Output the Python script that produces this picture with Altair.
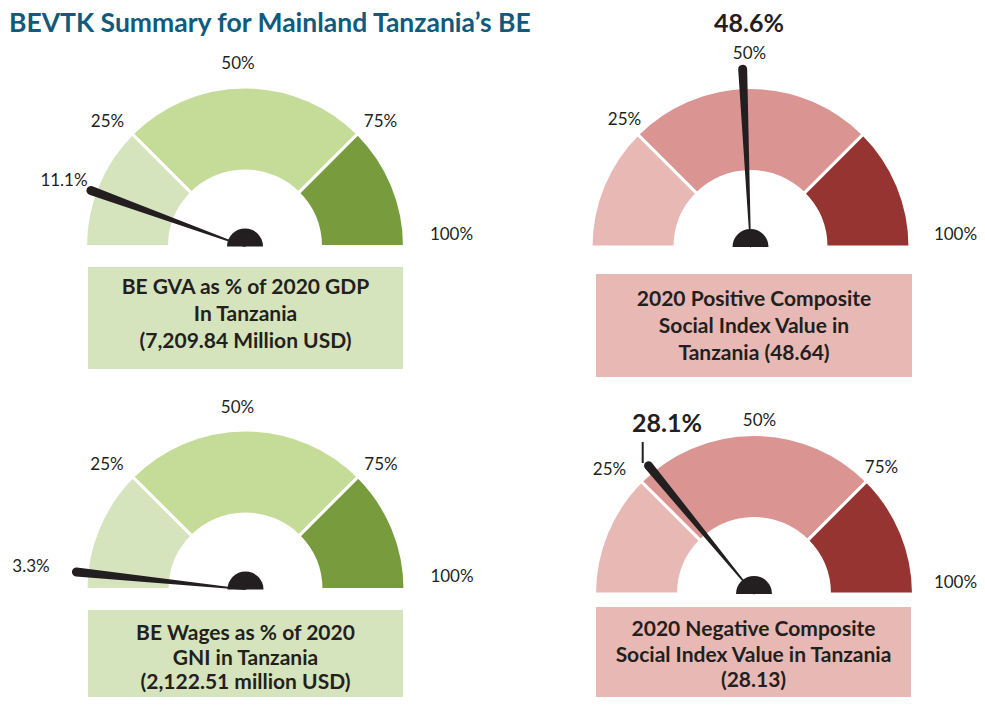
import math
import altair as alt
import pandas as pd

# ---------------- data ----------------
TITLE = "BEVTK Summary for Mainland Tanzania\u2019s BE"
gauge_ids = ["gva", "positive", "wages", "negative"]
gauge_values = [11.1, 48.6, 3.3, 28.1]
value_labels = ["11.1%", "48.6%", "3.3%", "28.1%"]
box_texts = [
    "BE GVA as % of 2020 GDP\nIn Tanzania\n(7,209.84 Million USD)",
    "2020 Positive Composite\nSocial Index Value in\nTanzania (48.64)",
    "BE Wages as % of 2020\nGNI in Tanzania\n(2,122.51 million USD)",
    "2020 Negative Composite\nSocial Index Value in Tanzania\n(28.13)",
]
band_starts = [0, 25, 75]
band_ends = [25, 75, 100]
tick_labels = ["25%", "50%", "75%", "100%"]
green_bands = ["#d6e4bd", "#c5dc98", "#779b3d"]
red_bands = ["#e8b9b4", "#da9592", "#963431"]
box_fills = ["#d6e4bd", "#e8b9b4", "#d6e4bd", "#e8b9b4"]

# ---------------- layout (pixel positions on the page) ----------------
centers_x = [245, 750.5, 245.5, 754]
centers_y = [246.5, 247, 589.5, 594]
needle_len = [164, 178, 170, 166]
boxes = [(88, 403, 267, 369), (596, 912, 274, 377), (88, 403, 610, 704), (596, 911, 607, 704)]
box_first_line = [288, 300, 634, 630]
box_line_h = [27, 27, 24.5, 25.5]
tick_pos = [
    [(107.5, 121.5), (238, 64), (380.5, 121.5), (451.5, 235)],
    [(624.5, 120), (749.5, 53.5), None, (955.5, 235)],
    [(107, 465), (237.5, 408), (381, 465), (452, 577)],
    [(609.5, 470), (759.5, 421), (881.5, 468), (955.5, 583)],
]
value_pos = [(64, 181), (749, 23.5), (31, 567), (667, 424)]
value_big = [False, True, False, True]
leader = (642.7, 442, 463)

XS = alt.Scale(domain=[8, 977], nice=False, zero=False)
YS = alt.Scale(domain=[8, 697], nice=False, zero=False, reverse=True)
INK = "#231f20"

# bands
seg_rows = []
for i, g in enumerate(gauge_ids):
    pal = green_bands if g in ("gva", "wages") else red_bands
    for s, e, c in zip(band_starts, band_ends, pal):
        seg_rows.append(dict(gauge=g, cx=centers_x[i], cy=centers_y[i], start=s, end=e, color=c))
seg_df = pd.DataFrame(seg_rows)

arcs = alt.Chart(seg_df).transform_calculate(
    t0="1.5*PI + datum.start/100*PI", t1="1.5*PI + datum.end/100*PI"
).mark_arc(stroke="white", strokeWidth=3, radius=159.5, radius2=75.5).encode(
    x=alt.X("cx:Q", scale=XS, axis=None),
    y=alt.Y("cy:Q", scale=YS, axis=None),
    theta=alt.Theta("t0:Q", scale=None),
    theta2="t1:Q",
    color=alt.Color("color:N", scale=None),
)

# needles
nd_rows = []
for i, g in enumerate(gauge_ids):
    for end in (0, 1):
        nd_rows.append(dict(gauge=g, cx=centers_x[i], cy=centers_y[i], value=gauge_values[i],
                            L=needle_len[i], end=end))
nd_df = pd.DataFrame(nd_rows)
needles = alt.Chart(nd_df).transform_calculate(
    a="PI*(1 - datum.value/100)",
    r="datum.end*datum.L",
    nx="datum.cx + datum.r*cos(datum.a)",
    ny="datum.cy - datum.r*sin(datum.a)",
    w="1 + 8*datum.end",
).mark_trail(color=INK).encode(
    x=alt.X("nx:Q", scale=XS, axis=None),
    y=alt.Y("ny:Q", scale=YS, axis=None),
    size=alt.Size("w:Q", scale=None),
    detail="gauge:N",
    order="end:Q",
)

hub_df = pd.DataFrame(dict(gauge=gauge_ids, cx=centers_x, cy=centers_y))
hubs = alt.Chart(hub_df).mark_arc(color=INK, radius=18, theta=1.5 * math.pi, theta2=2.5 * math.pi).encode(
    x=alt.X("cx:Q", scale=XS, axis=None),
    y=alt.Y("cy:Q", scale=YS, axis=None),
)

# tick labels
tk_rows = []
for i in range(4):
    for lab, p in zip(tick_labels, tick_pos[i]):
        if p is not None:
            tk_rows.append(dict(label=lab, x=p[0], y=p[1]))
tk_df = pd.DataFrame(tk_rows)
ticks = alt.Chart(tk_df).mark_text(font="Lato", fontSize=17, color=INK, baseline="middle", align="center").encode(
    x=alt.X("x:Q", scale=XS, axis=None), y=alt.Y("y:Q", scale=YS, axis=None), text="label:N"
)

vl_df = pd.DataFrame(dict(label=value_labels, x=[p[0] for p in value_pos], y=[p[1] for p in value_pos], big=value_big))
vsmall = alt.Chart(vl_df[~vl_df.big]).mark_text(font="Lato", fontSize=17, color=INK, baseline="middle").encode(
    x=alt.X("x:Q", scale=XS, axis=None), y=alt.Y("y:Q", scale=YS, axis=None), text="label:N"
)
vbig = alt.Chart(vl_df[vl_df.big]).mark_text(font="Lato", fontSize=25, fontWeight="bold", color=INK, baseline="middle").encode(
    x=alt.X("x:Q", scale=XS, axis=None), y=alt.Y("y:Q", scale=YS, axis=None), text="label:N"
)
lead_df = pd.DataFrame(dict(x=[leader[0]], y=[leader[1]], y2=[leader[2]]))
lead = alt.Chart(lead_df).mark_rule(color=INK, strokeWidth=2).encode(
    x=alt.X("x:Q", scale=XS, axis=None), y=alt.Y("y:Q", scale=YS, axis=None), y2="y2:Q"
)

# boxes
bx_df = pd.DataFrame(dict(
    x=[b[0] for b in boxes], x2=[b[1] for b in boxes], y=[b[2] for b in boxes], y2=[b[3] for b in boxes],
    fill=box_fills,
))
rects = alt.Chart(bx_df).mark_rect().encode(
    x=alt.X("x:Q", scale=XS, axis=None), x2="x2:Q",
    y=alt.Y("y:Q", scale=YS, axis=None), y2="y2:Q",
    color=alt.Color("fill:N", scale=None),
)
# one text row per line of each box
ln_rows = []
for i in range(4):
    for j, line in enumerate(box_texts[i].split("\n")):
        ln_rows.append(dict(text=line, x=(boxes[i][0] + boxes[i][1]) / 2,
                            y=box_first_line[i] + j * box_line_h[i]))
ln_df = pd.DataFrame(ln_rows)
btext = alt.Chart(ln_df).mark_text(font="Lato", fontSize=21, fontWeight="bold", color=INK,
                                   baseline="middle", align="center").encode(
    x=alt.X("x:Q", scale=XS, axis=None), y=alt.Y("y:Q", scale=YS, axis=None), text="text:N"
)

title_df = pd.DataFrame(dict(text=[TITLE], x=[9], y=[24]))
title = alt.Chart(title_df).mark_text(font="Lato", fontSize=26.5, fontWeight="bold", color="#105b7c",
                                      align="left", baseline="middle").encode(
    x=alt.X("x:Q", scale=XS, axis=None), y=alt.Y("y:Q", scale=YS, axis=None), text="text:N"
)

chart = alt.layer(rects, btext, arcs, needles, hubs, ticks, vsmall, vbig, lead, title).properties(
    width=969, height=689, padding=0, autosize="none"
).configure_view(stroke=None)

chart.save("out.html", embed_options={"renderer": "svg", "actions": False})
